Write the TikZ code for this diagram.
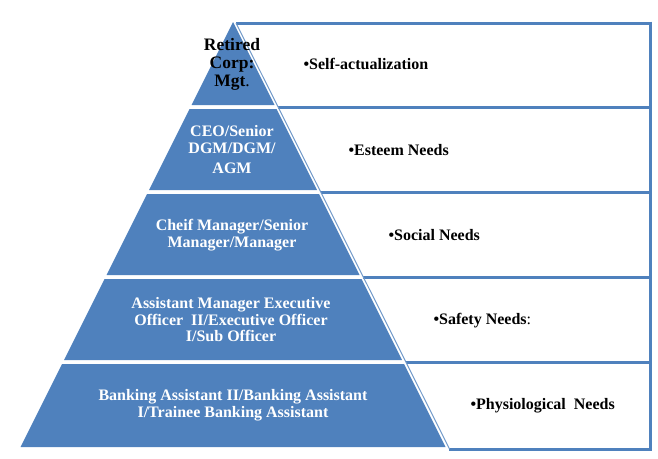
\documentclass[tikz,border=0pt]{standalone}
\usepackage{fontspec}
\setmainfont{Liberation Serif}
\definecolor{pyrblue}{HTML}{4F81BD}
\tikzset{
  layer/.style={fill=pyrblue},
  rim/.style={draw=pyrblue,line width=3pt},
  rank/.style={align=center,text=white,font=\bfseries\fontsize{16}{16.5}\selectfont},
  need/.style={anchor=west,font=\bfseries\fontsize{16}{17}\selectfont}
}

\begin{document}
\begin{tikzpicture}[x=1pt,y=-1pt]
\useasboundingbox (0,0) rectangle (658,458);
% boxes behind the needs
\draw[rim] (236,23) -- (650,23);
\draw[rim] (278,107) -- (650,107);
\draw[rim] (321,192) -- (650,192);
\draw[rim] (363,277) -- (650,277);
\draw[rim] (406,362) -- (650,362);
\draw[rim] (449,449) -- (650,449);
\draw[rim] (650,21.5) -- (650,450.5);
\draw[pyrblue!80,line width=1pt] (236,23) -- (449.5,449);
% pyramid
\fill[layer] (233,22) -- (274.5,105) -- (191.5,105) -- cycle;
\fill[layer] (189.5,109) -- (276.5,109) -- (317,190) -- (149,190) -- cycle;
\fill[layer] (147,194) -- (319,194) -- (359.5,275) -- (106.5,275) -- cycle;
\fill[layer] (104.5,279) -- (361.5,279) -- (402,360) -- (64,360) -- cycle;
\fill[layer] (62,364) -- (404,364) -- (445.5,447) -- (20.5,447) -- cycle;

\node[rank,text=black,font=\bfseries\fontsize{17.5}{18}\selectfont] (t1) at (232,64) {Retired\\Corp:\\Mgt{\mdseries.}};
\node[rank] (t2) at (232,150) {CEO/Senior\\DGM/DGM/\\[4pt]AGM};
\node[rank] (t3) at (232,235) {Cheif Manager/Senior\\Manager/Manager};
\node[rank] (t4) at (231,320) {Assistant Manager Executive\\Officer\ \ II/Executive Officer\\I/Sub Officer};
\node[rank] (t5) at (233,405) {Banking Assistant II/Banking Assistant\\I/Trainee Banking Assistant};

\node[need] (n1) at (300,64) {•Self-actualization};
\node[need] (n2) at (345,150) {•Esteem Needs};
\node[need] (n3) at (385,235) {•Social Needs};
\node[need] (n4) at (430,321) {•Safety Needs{\mdseries:}};
\node[need] (n5) at (467,406) {•Physiological\ \ Needs};
\end{tikzpicture}
\end{document}
